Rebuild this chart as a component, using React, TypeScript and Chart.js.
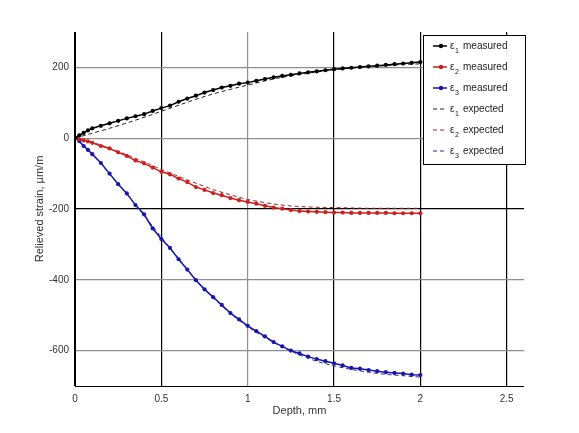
import React, { useEffect, useRef } from "react";
import { Chart, registerables } from "chart.js";

Chart.register(...registerables);

// depth (mm) of the measured points
const measuredDepth = [
  0, 0.025, 0.05, 0.075, 0.1, 0.15, 0.2, 0.25, 0.3, 0.35, 0.4, 0.45, 0.5, 0.55, 0.6, 0.65, 0.7, 0.75, 0.8, 0.85,
  0.9, 0.95, 1.0, 1.05, 1.1, 1.15, 1.2, 1.25, 1.3, 1.35, 1.4, 1.45, 1.5, 1.55, 1.6, 1.65, 1.7, 1.75, 1.8, 1.85,
  1.9, 1.95, 2.0,
];
const eps1Measured = [
  0, 8, 15, 22, 28, 35, 42, 49, 56, 62, 68, 77, 85, 92, 103, 112, 120, 129, 136, 143, 148, 154, 157, 162, 167,
  172, 176, 179, 183, 186, 189, 192, 195, 197, 199, 201, 203, 205, 207, 209, 211, 213, 215,
];
const eps2Measured = [
  0, -3, -6, -9, -13, -22, -29, -40, -50, -63, -71, -83, -95, -102, -114, -124, -138, -146, -155, -161, -169,
  -175, -180, -185, -191, -196, -199, -203, -206, -207, -208, -209, -210, -210, -211, -211, -211, -211, -211,
  -212, -212, -212, -212,
];
const eps3Measured = [
  0, -8, -22, -33, -45, -70, -100, -130, -156, -189, -215, -255, -285, -310, -342, -371, -401, -427, -449, -471,
  -494, -512, -530, -545, -560, -576, -588, -600, -608, -617, -624, -630, -636, -642, -649, -651, -655, -658,
  -661, -663, -665, -668, -669,
];

// depth (mm) of the expected curves
const expectedDepth = [0, 0.1, 0.2, 0.3, 0.4, 0.5, 0.6, 0.7, 0.8, 0.9, 1.0, 1.1, 1.2, 1.3, 1.4, 1.5, 1.6, 1.7, 1.8, 1.9, 2.0];
const eps1Expected = [0, 14, 28, 43, 59, 76, 93, 110, 125, 138, 150, 162, 172, 180, 187, 193, 198, 202, 205, 208, 210];
const eps2Expected = [0, -12, -28, -47, -67, -88, -108, -127, -145, -160, -173, -182, -189, -193, -195, -196, -197, -198, -198, -198, -198];
const eps3Expected = [0, -45, -100, -158, -218, -280, -340, -400, -450, -495, -532, -563, -590, -612, -630, -643, -653, -661, -667, -671, -675];

const xTicks = [0, 0.5, 1, 1.5, 2, 2.5];
const yTicks = [-600, -400, -200, 0, 200];

const legendNames = ["1 measured", "2 measured", "3 measured", "1 expected", "2 expected", "3 expected"];

const FONT = "'Liberation Sans', Arial, sans-serif";

const toPoints = (xs: number[], ys: number[]) => xs.map((x, i) => ({ x, y: ys[i] }));

// legend drawn inside the plot, with subscripted epsilon labels
const innerLegend = {
  id: "innerLegend",
  afterDraw(chart: any) {
    const { ctx, chartArea } = chart;
    const boxW = 103;
    const boxH = 130;
    const left = chartArea.right - boxW + 2;
    const top = chartArea.top + 3;
    ctx.save();
    ctx.fillStyle = "#fff";
    ctx.fillRect(left, top, boxW, boxH);
    ctx.strokeStyle = "#000";
    ctx.lineWidth = 1;
    ctx.strokeRect(left + 0.5, top + 0.5, boxW - 1, boxH - 1);
    chart.data.datasets.forEach((ds: any, i: number) => {
      const y = top + 11 + i * 21;
      const x0 = left + 10;
      const x1 = left + 24;
      ctx.strokeStyle = ds.borderColor;
      ctx.lineWidth = ds.borderWidth;
      ctx.setLineDash(ds.borderDash || []);
      ctx.beginPath();
      ctx.moveTo(x0, y);
      ctx.lineTo(x1, y);
      ctx.stroke();
      ctx.setLineDash([]);
      if (ds.pointRadius > 0) {
        ctx.fillStyle = ds.borderColor;
        ctx.beginPath();
        ctx.arc((x0 + x1) / 2 + 1, y, 2.2, 0, Math.PI * 2);
        ctx.fill();
      }
      const [num, ...rest] = legendNames[i].split(" ");
      ctx.fillStyle = "#222";
      ctx.textBaseline = "middle";
      ctx.font = `10px ${FONT}`;
      ctx.fillText("\u03b5", x1 + 3, y);
      ctx.font = `7px ${FONT}`;
      ctx.fillText(num, x1 + 8, y + 5);
      ctx.font = `10px ${FONT}`;
      ctx.fillText(rest.join(" "), x1 + 16, y);
    });
    ctx.restore();
  },
};

const App = () => {
  const canvasRef = useRef<HTMLCanvasElement | null>(null);
  const chartRef = useRef<Chart | null>(null);

  useEffect(() => {
    document.body.style.margin = "0";
    if (!canvasRef.current) return;
    if (chartRef.current) chartRef.current.destroy();

    const measured = (label: string, ys: number[], color: string) => ({
      label,
      data: toPoints(measuredDepth, ys),
      borderColor: color,
      backgroundColor: color,
      borderWidth: 1.5,
      pointRadius: 2.1,
      pointBorderWidth: 0,
      pointBackgroundColor: color,
      tension: 0,
    });
    const expected = (label: string, ys: number[], color: string) => ({
      label,
      data: toPoints(expectedDepth, ys),
      borderColor: color,
      backgroundColor: color,
      borderWidth: 1,
      borderDash: [4, 3],
      pointRadius: 0,
      cubicInterpolationMode: "monotone",
    });

    chartRef.current = new Chart(canvasRef.current, {
      type: "line",
      data: {
        datasets: [
          measured("e1 measured", eps1Measured, "#000000"),
          measured("e2 measured", eps2Measured, "#cc1f1f"),
          measured("e3 measured", eps3Measured, "#1717b0"),
          expected("e1 expected", eps1Expected, "#222222"),
          expected("e2 expected", eps2Expected, "#a82020"),
          expected("e3 expected", eps3Expected, "#2a2a8a"),
        ] as any,
      },
      options: {
        animation: false,
        responsive: false,
        layout: { padding: { top: 32, right: 55, left: 0, bottom: 0 } },
        plugins: {
          legend: { display: false },
          tooltip: { enabled: false },
        },
        scales: {
          x: {
            type: "linear",
            min: 0,
            max: 2.6,
            afterBuildTicks: (s: any) => {
              s.ticks = xTicks.map((value) => ({ value }));
            },
            afterFit: (s: any) => {
              s.height = 47;
            },
            grid: {
              color: (c: any) => (c.tick && c.tick.value === 1 ? "#8e8e8e" : "#000"),
              lineWidth: 1.2,
              drawTicks: false,
            },
            border: { color: "#000", width: 1 },
            ticks: {
              padding: 7,
              color: "#333",
              font: { family: FONT, size: 10 },
              callback: (v: any) => String(v),
            },
            title: {
              display: true,
              text: "Depth, mm",
              color: "#333",
              font: { family: FONT, size: 11 },
              padding: { top: 0, bottom: 15 },
            },
          },
          y: {
            type: "linear",
            min: -700,
            max: 300,
            afterBuildTicks: (s: any) => {
              s.ticks = yTicks.map((value) => ({ value }));
            },
            afterFit: (s: any) => {
              s.width = 75;
            },
            grid: {
              color: (c: any) => (c.tick && c.tick.value === -200 ? "#000" : "#8e8e8e"),
              lineWidth: 1.2,
              drawTicks: false,
            },
            border: { color: "#000", width: 1 },
            ticks: {
              padding: 6,
              color: "#333",
              font: { family: FONT, size: 10 },
              callback: (v: any) => String(v),
            },
            title: {
              display: true,
              text: "Relieved strain, \u00b5m/m",
              color: "#333",
              font: { family: FONT, size: 11 },
              padding: { top: 33, bottom: 0 },
            },
          },
        },
      },
      plugins: [innerLegend],
    });

    return () => {
      if (chartRef.current) {
        chartRef.current.destroy();
        chartRef.current = null;
      }
    };
  }, []);

  return (
    <div style={{ width: "579px", height: "433px" }}>
      <canvas ref={canvasRef} width={579} height={433} style={{ width: "579px", height: "433px" }}></canvas>
    </div>
  );
};

export default App;
